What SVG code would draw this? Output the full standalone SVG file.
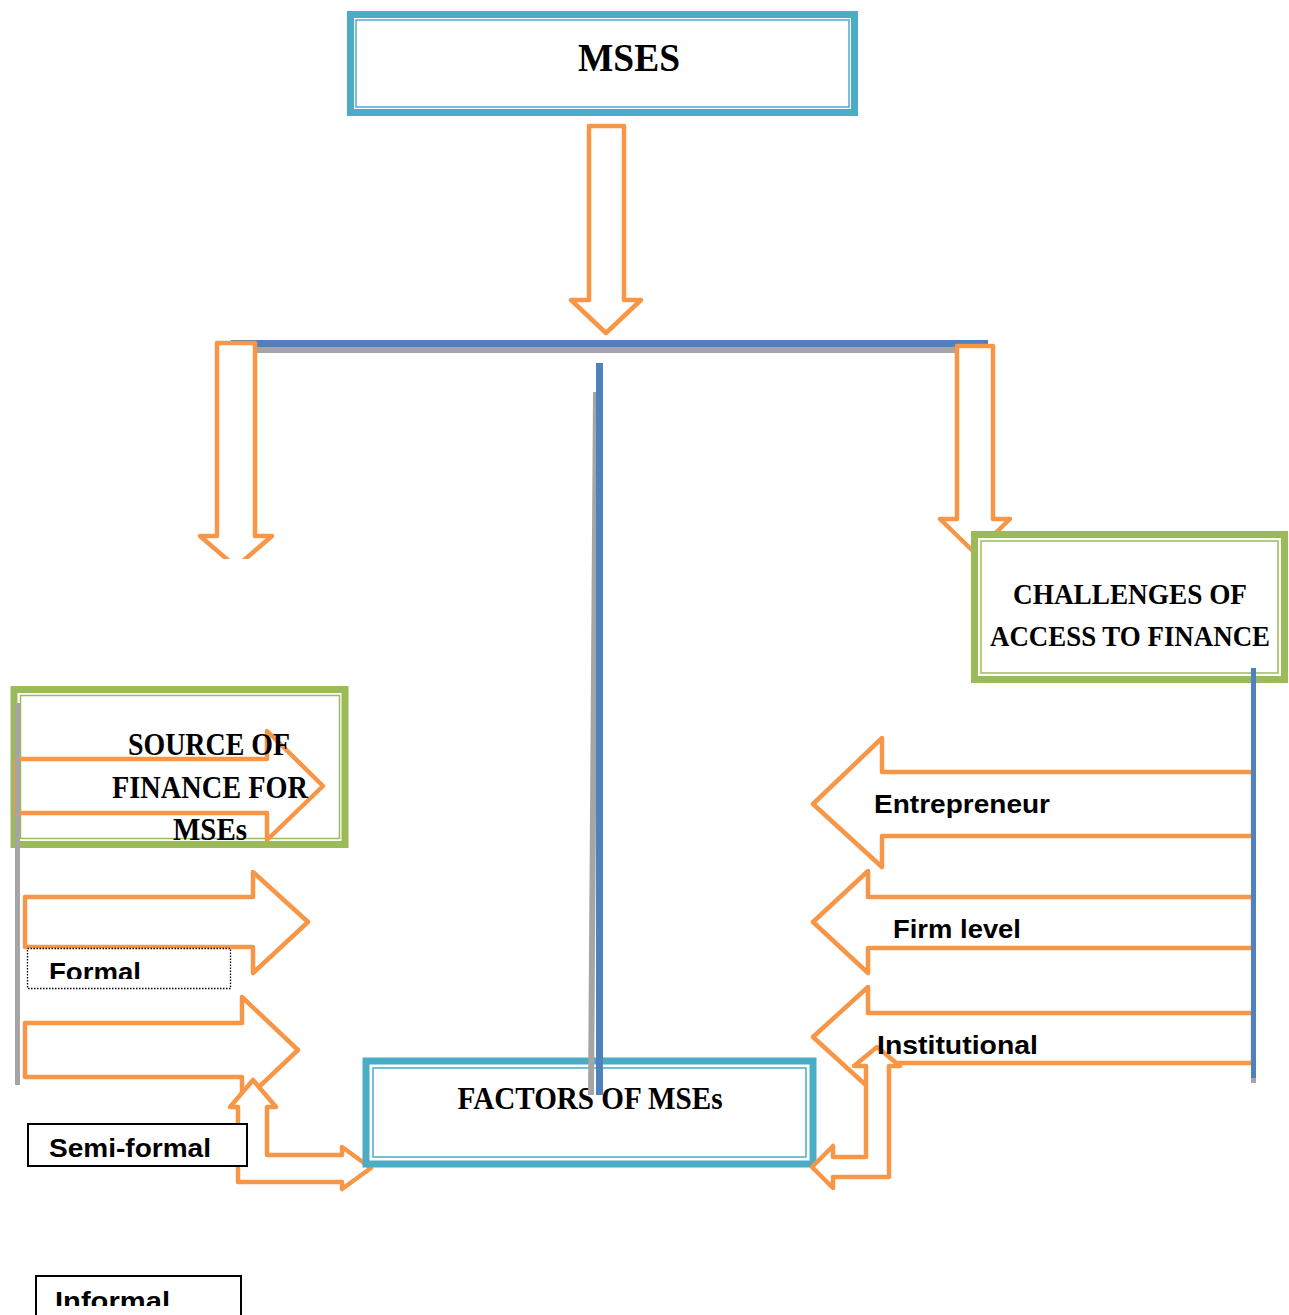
<svg xmlns="http://www.w3.org/2000/svg" width="1289" height="1315" viewBox="0 0 1289 1315">
<style>
.arr{fill:#fff;stroke:#F79646;stroke-width:4.5;stroke-linejoin:round}
.arrn{fill:none;stroke:#F79646;stroke-width:4.5;stroke-linejoin:round}
.teal{fill:#fff;stroke:#4BACC6;stroke-width:7}
.tealin{fill:none;stroke:#4BACC6;stroke-width:1.5}
.green{fill:#fff;stroke:#9BBB59;stroke-width:7}
.greenin{fill:none;stroke:#9BBB59;stroke-width:1.5}
.ser{font-family:"Liberation Serif","DejaVu Serif",serif;font-weight:bold;fill:#000}
.san{font-family:"Liberation Sans","Open Sans",sans-serif;font-weight:bold;fill:#000;font-size:26px}
.box{fill:#fff;stroke:#000;stroke-width:2}
</style>
<defs>
<clipPath id="clipL"><rect x="0" y="0" width="400" height="559"/></clipPath>
<clipPath id="clipF"><rect x="0" y="940" width="300" height="39"/></clipPath>
<clipPath id="clipI"><rect x="0" y="1270" width="300" height="36"/></clipPath>
</defs>

<g id="mses">
<rect class="teal" x="350.5" y="14.5" width="504" height="98"/>
<rect class="tealin" x="356" y="20" width="493" height="87"/>
<text class="ser" x="629" y="71" font-size="41" text-anchor="middle" textLength="102" lengthAdjust="spacingAndGlyphs">MSES</text>
</g>

<g id="connectors">
<polygon class="arr" points="589,126 624,126 624,300 641,300 606,333 571,300 589,300"/>
<rect x="231" y="340" width="757" height="7" fill="#4F81BD"/>
<rect x="231" y="347" width="757" height="6" fill="#A5A5A5"/>
<polygon class="arr" clip-path="url(#clipL)" points="217,343 255,343 255,536 272,536 236,567 200,536 217,536"/>
<polygon class="arr" points="957,346 993,346 993,519 1010,519 975,553 940,519 957,519"/>
</g>

<g id="challenges">
<rect class="green" x="974.5" y="534.5" width="310" height="145"/>
<rect class="greenin" x="981" y="541" width="297" height="132"/>
<text class="ser" x="1130" y="604" font-size="30" text-anchor="middle" textLength="234" lengthAdjust="spacingAndGlyphs">CHALLENGES OF</text>
<text class="ser" x="1130" y="646" font-size="30" text-anchor="middle" textLength="280" lengthAdjust="spacingAndGlyphs">ACCESS TO FINANCE</text>
</g>

<g id="source">
<rect class="green" x="14" y="689.5" width="331" height="155"/>
<rect class="greenin" x="20.5" y="695.5" width="319" height="143"/>
<polygon class="arrn" points="16,759 267,759 267,731 323,786 267,840 267,813 16,813"/>
<text class="ser" x="209" y="755" font-size="31" text-anchor="middle" textLength="162" lengthAdjust="spacingAndGlyphs">SOURCE OF</text>
<text class="ser" x="210" y="798" font-size="31" text-anchor="middle" textLength="196" lengthAdjust="spacingAndGlyphs">FINANCE FOR</text>
<text class="ser" x="210" y="840" font-size="31" text-anchor="middle" textLength="74" lengthAdjust="spacingAndGlyphs">MSEs</text>
</g>
<rect x="15" y="703" width="5" height="382" fill="#A5A5A5"/>

<g id="formal">
<polygon class="arr" points="25,897 253,897 253,872 308,922 253,973 253,947 25,947"/>
<rect x="27.5" y="948.5" width="203" height="40" fill="#fff" stroke="#000" stroke-width="1.3" stroke-dasharray="1.5,1.5"/>
<text class="san" x="49" y="981" clip-path="url(#clipF)" textLength="92" lengthAdjust="spacingAndGlyphs">Formal</text>
</g>

<g id="semiformal">
<polygon class="arr" points="25,1023 242,1023 242,997 298,1050 242,1103 242,1077 25,1077"/>
<polygon class="arr" points="253,1080 276,1107 267,1107 267,1155 342,1155 342,1147 371,1168 342,1189 342,1182 238,1182 238,1107 230,1107"/>
<rect class="box" x="28" y="1124" width="219" height="42"/>
<text class="san" x="49" y="1157" textLength="162" lengthAdjust="spacingAndGlyphs">Semi-formal</text>
</g>

<g id="informal">
<rect class="box" x="36" y="1276" width="205" height="60"/>
<text class="san" x="55" y="1310" clip-path="url(#clipI)" textLength="115" lengthAdjust="spacingAndGlyphs">Informal</text>
</g>

<g id="factors">
<rect class="teal" x="366" y="1061" width="447" height="103"/>
<rect class="tealin" x="373" y="1068" width="433" height="89"/>
<text class="ser" x="590" y="1109" font-size="31" text-anchor="middle" textLength="265" lengthAdjust="spacingAndGlyphs">FACTORS OF MSEs</text>
</g>

<g id="centerline">
<line x1="596" y1="392" x2="591" y2="1095" stroke="#A5A5A5" stroke-width="6"/>
<rect x="596" y="363" width="7" height="732" fill="#4F81BD"/>
</g>

<g id="entrepreneur">
<polygon class="arr" points="1253,772 882,772 882,738 813,804 882,867 882,836 1253,836"/>
<text class="san" x="874" y="813" textLength="176" lengthAdjust="spacingAndGlyphs">Entrepreneur</text>
</g>

<g id="firmlevel">
<polygon class="arr" points="1253,897 868,897 868,871 813,922 868,973 868,948 1253,948"/>
<text class="san" x="893" y="938" textLength="128" lengthAdjust="spacingAndGlyphs">Firm level</text>
</g>

<g id="institutional">
<polygon class="arr" points="1253,1013 868,1013 868,987 813,1037 868,1087 868,1063 1253,1063"/>
<polygon class="arr" points="877,1047 900,1066 889,1066 889,1177 833,1177 833,1188 812,1167 833,1146 833,1157 866,1157 866,1066 854,1066"/>
<text class="san" x="877" y="1054" textLength="161" lengthAdjust="spacingAndGlyphs">Institutional</text>
</g>

<rect x="1251" y="668" width="5" height="410" fill="#4F81BD"/>
<rect x="1251" y="1078" width="5" height="5" fill="#A5A5A5"/>
</svg>
